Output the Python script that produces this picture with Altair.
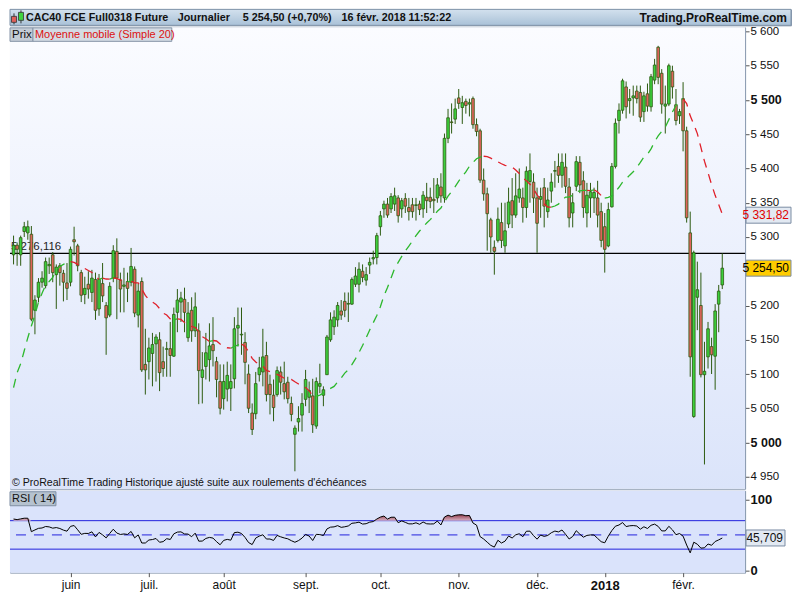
import altair as alt
import pandas as pd
import numpy as np

# ---------------- data ----------------
opens = [5274, 5288, 5274, 5308, 5306, 5304, 5193, 5212, 5234, 5229,
         5258, 5274, 5245, 5258, 5247, 5233, 5234, 5296, 5287, 5248,
         5216, 5231, 5219, 5238, 5195, 5232, 5200, 5186, 5240, 5279,
         5237, 5228, 5235, 5234, 5253, 5186, 5235, 5114, 5118, 5130,
         5144, 5150, 5118, 5136, 5137, 5126, 5190, 5205, 5209, 5153,
         5193, 5163, 5163, 5095, 5111, 5121, 5143, 5118, 5089, 5064,
         5078, 5079, 5093, 5167, 5157, 5146, 5100, 5043, 5042, 5099,
         5103, 5127, 5085, 5069, 5070, 5103, 5086, 5088, 5057, 5012,
         5030, 5040, 5063, 5066, 5068, 5024, 5082, 5069, 5099, 5150,
         5169, 5179, 5192, 5206, 5202, 5202, 5231, 5231, 5250, 5237,
         5259, 5268, 5270, 5315, 5341, 5348, 5341, 5348, 5357, 5341,
         5356, 5343, 5347, 5346, 5348, 5341, 5358, 5358, 5355, 5357,
         5373, 5357, 5444, 5468, 5472, 5503, 5489, 5498, 5494, 5502,
         5464, 5455, 5383, 5363, 5325, 5285, 5295, 5321, 5287, 5319,
         5353, 5332, 5357, 5357, 5343, 5381, 5380, 5357, 5355, 5372,
         5337, 5367, 5396, 5403, 5390, 5402, 5373, 5335, 5374, 5409,
         5382, 5335, 5357, 5357, 5357, 5337, 5315, 5287, 5344, 5403,
         5470, 5485, 5519, 5499, 5503, 5513, 5511, 5483, 5509, 5490,
         5529, 5577, 5539, 5491, 5494, 5542, 5493, 5477, 5502, 5455,
         5306, 5038, 5212, 5200, 5099, 5125, 5140, 5126, 5202, 5230]
highs = [5302, 5292, 5302, 5322, 5324, 5316, 5215, 5240, 5250, 5270,
         5270, 5278, 5260, 5262, 5252, 5262, 5286, 5315, 5290, 5252,
         5242, 5250, 5252, 5248, 5246, 5262, 5205, 5234, 5288, 5298,
         5248, 5255, 5248, 5284, 5257, 5232, 5241, 5166, 5153, 5160,
         5158, 5161, 5140, 5147, 5176, 5197, 5224, 5220, 5226, 5205,
         5212, 5219, 5174, 5132, 5160, 5174, 5183, 5125, 5114, 5114,
         5118, 5114, 5183, 5197, 5197, 5161, 5114, 5057, 5103, 5125,
         5166, 5147, 5099, 5092, 5111, 5111, 5118, 5096, 5067, 5025,
         5053, 5072, 5106, 5089, 5093, 5095, 5115, 5082, 5157, 5190,
         5193, 5205, 5208, 5219, 5219, 5241, 5256, 5263, 5260, 5256,
         5270, 5280, 5306, 5338, 5353, 5357, 5364, 5372, 5361, 5357,
         5364, 5357, 5357, 5357, 5353, 5367, 5379, 5372, 5386, 5386,
         5393, 5451, 5487, 5495, 5502, 5516, 5506, 5502, 5502, 5505,
         5473, 5458, 5400, 5372, 5328, 5295, 5343, 5350, 5350, 5372,
         5386, 5393, 5400, 5372, 5403, 5422, 5393, 5372, 5372, 5386,
         5372, 5393, 5411, 5422, 5422, 5422, 5386, 5364, 5418, 5418,
         5396, 5379, 5379, 5372, 5382, 5350, 5335, 5350, 5408, 5473,
         5495, 5531, 5527, 5516, 5521, 5521, 5521, 5512, 5524, 5538,
         5560, 5579, 5545, 5521, 5553, 5550, 5516, 5487, 5526, 5461,
         5337, 5280, 5264, 5248, 5147, 5176, 5153, 5202, 5230, 5276]
lows = [5260, 5258, 5258, 5300, 5296, 5177, 5158, 5205, 5226, 5225,
        5246, 5234, 5195, 5229, 5206, 5208, 5228, 5273, 5250, 5205,
        5202, 5210, 5205, 5179, 5185, 5205, 5128, 5183, 5234, 5180,
        5190, 5190, 5205, 5228, 5183, 5168, 5103, 5070, 5092, 5082,
        5089, 5075, 5096, 5096, 5096, 5125, 5161, 5176, 5161, 5147,
        5147, 5154, 5056, 5057, 5092, 5089, 5111, 5066, 5041, 5048,
        5060, 5046, 5079, 5140, 5128, 5085, 5043, 5011, 5034, 5089,
        5082, 5060, 5041, 5031, 5067, 5070, 5063, 5057, 5031, 4958,
        5016, 5016, 5053, 5043, 5014, 5020, 5072, 5053, 5099, 5147,
        5157, 5169, 5179, 5183, 5176, 5201, 5227, 5219, 5234, 5229,
        5246, 5260, 5260, 5302, 5328, 5328, 5335, 5338, 5321, 5328,
        5335, 5324, 5328, 5324, 5332, 5328, 5335, 5342, 5335, 5350,
        5350, 5350, 5437, 5451, 5465, 5487, 5465, 5480, 5476, 5458,
        5447, 5379, 5353, 5280, 5277, 5245, 5292, 5284, 5277, 5313,
        5313, 5328, 5350, 5321, 5328, 5350, 5335, 5277, 5328, 5314,
        5328, 5350, 5372, 5379, 5372, 5364, 5314, 5314, 5367, 5364,
        5328, 5314, 5328, 5335, 5314, 5285, 5248, 5285, 5343, 5400,
        5451, 5480, 5473, 5480, 5477, 5495, 5468, 5468, 5483, 5483,
        5523, 5523, 5480, 5451, 5491, 5502, 5463, 5465, 5425, 5321,
        5096, 5036, 5164, 5095, 4968, 5108, 5100, 5077, 5161, 5224]
closes = [5288, 5282, 5299, 5315, 5315, 5180, 5208, 5234, 5240, 5264,
          5260, 5248, 5256, 5248, 5234, 5225, 5282, 5293, 5258, 5215,
          5225, 5224, 5240, 5193, 5238, 5214, 5182, 5228, 5280, 5240,
          5224, 5230, 5225, 5257, 5189, 5221, 5106, 5106, 5138, 5143,
          5154, 5102, 5108, 5137, 5127, 5187, 5208, 5211, 5190, 5189,
          5163, 5198, 5105, 5106, 5131, 5141, 5134, 5092, 5050, 5089,
          5098, 5089, 5166, 5171, 5158, 5117, 5050, 5019, 5086, 5109,
          5125, 5070, 5070, 5051, 5105, 5088, 5074, 5064, 5041, 5021,
          5035, 5057, 5092, 5076, 5026, 5089, 5086, 5077, 5154, 5179,
          5183, 5200, 5186, 5193, 5203, 5238, 5243, 5253, 5241, 5245,
          5263, 5270, 5302, 5331, 5348, 5332, 5359, 5360, 5331, 5353,
          5345, 5337, 5337, 5347, 5340, 5361, 5353, 5352, 5353, 5376,
          5360, 5444, 5474, 5467, 5487, 5495, 5496, 5492, 5496, 5464,
          5454, 5383, 5363, 5334, 5300, 5279, 5326, 5295, 5309, 5351,
          5332, 5360, 5370, 5343, 5396, 5397, 5357, 5320, 5359, 5345,
          5354, 5380, 5397, 5390, 5409, 5374, 5328, 5350, 5410, 5376,
          5343, 5361, 5366, 5365, 5332, 5295, 5282, 5340, 5403, 5466,
          5485, 5528, 5490, 5502, 5506, 5502, 5475, 5506, 5491, 5534,
          5551, 5533, 5494, 5494, 5550, 5519, 5470, 5483, 5455, 5328,
          5125, 5277, 5223, 5099, 5104, 5166, 5128, 5192, 5221, 5254.5]

# moving average values for the first 19 sessions
ma_head = [5080, 5102, 5115, 5134, 5153, 5170, 5186, 5205, 5218, 5230,
           5235, 5241, 5251, 5257, 5260, 5263, 5264, 5263, 5260]
# RSI state before the first session (previous close, avg gain, avg loss)
rsi_seed = [5278, 28.0, 11.0]

month_idx = [16, 38, 59, 82, 103, 125, 147, 166, 188]
month_lbl = ["juin", "juil.", "août", "sept.", "oct.", "nov.", "déc.", "2018", "févr."]
price_ticks = [4950, 5000, 5050, 5100, 5150, 5200, 5250, 5300, 5350,
               5400, 5450, 5500, 5550, 5600]
hidden_tick_label = 5250   # covered by the last-price badge in the reference
ref_level = [5276.116]
ref_label = ["5 276,116"]
badge_vals = [5331.82, 5254.5]
badge_labels = ["5 331,82", "5 254,50"]
rsi_last = [45.709]
rsi_last_label = ["45,709"]
title_parts = ["CAC40 FCE Full0318 Future", "Journalier", "5 254,50 (+0,70%)",
               "16 févr. 2018 11:52:22"]
site = "Trading.ProRealTime.com"
legend_ma = "Moyenne mobile (Simple 20)"
footnote = "© ProRealTime Trading  Historique ajusté suite aux roulements d'échéances"

# ---------------- derived tables ----------------
n = len(closes)
df = pd.DataFrame({"i": range(n), "o": opens, "h": highs, "l": lows, "c": closes})
df["top"] = df[["o", "c"]].max(axis=1)
df["bot"] = df[["o", "c"]].min(axis=1)
df["dir"] = np.where(df["c"] >= df["o"], "up", "down")

ma = pd.Series(closes, dtype=float).rolling(20).mean().tolist()
ma[:19] = ma_head
rows = []
run = 0
prev_dir = None
for k in range(1, n):
    d = "up" if ma[k] >= ma[k - 1] else "down"
    if d != prev_dir:
        run += 1
        rows.append({"i": k - 1, "ma": ma[k - 1], "dir": d, "run": run})
    rows.append({"i": k, "ma": ma[k], "dir": d, "run": run})
    prev_dir = d
ma_df = pd.DataFrame(rows)

prev, ag, al = rsi_seed
rsi = []
for c in closes:
    ch = c - prev
    ag = (ag * 13 + max(ch, 0)) / 14
    al = (al * 13 + max(-ch, 0)) / 14
    rsi.append(100 - 100 / (1 + ag / al))
    prev = c
rsi_df = pd.DataFrame({"i": range(n), "rsi": rsi})
rsi_df["rc"] = rsi_df["rsi"].clip(lower=70)
rsi_df["r70"] = 70.0

one = pd.DataFrame({"a": [0]})

# ---------------- layout ----------------
FONT = "Liberation Sans"
W = 736
H = 462
HR = 82
BW = 782
BH = 16

xscale = alt.Scale(domain=[-1.0, 205.4], nice=False, zero=False)
yscale = alt.Scale(domain=[4932.5, 5606], nice=False, zero=False)
rscale = alt.Scale(domain=[-3, 112], nice=False, zero=False)

y_axis = alt.Axis(orient="right", values=price_ticks, title=None, grid=False,
                  labelExpr=f"datum.value == {hidden_tick_label} ? '' : replace(format(datum.value, ',d'), ',', ' ')",
                  tickSize=4, labelPadding=1, labelColor="#111", tickColor="#555",
                  domainColor="#8a9ab0", labelFont=FONT,
                  labelFontSize={"condition": {"test": "datum.value % 500 == 0", "value": 12.5}, "value": 11.5},
                  labelFontWeight={"condition": {"test": "datum.value % 500 == 0", "value": "bold"}, "value": "normal"})


def XM(f):
    return alt.X(f, type="quantitative", scale=xscale, axis=None)


def YM(f):
    return alt.Y(f, type="quantitative", scale=yscale, axis=y_axis)


# ---- title bar ----
bar_bg = alt.Chart(one).mark_rect(
    color=alt.Gradient(gradient="linear",
                       stops=[alt.GradientStop(color="#d3e1ee", offset=0),
                              alt.GradientStop(color="#a9c1d7", offset=1)],
                       x1=0, x2=0, y1=0, y2=1),
    stroke="#7f93a8").encode(x=alt.value(0), x2=alt.value(BW), y=alt.value(0), y2=alt.value(BH))
icon_w = alt.Chart(one).mark_rule(color="#333").encode(x=alt.value(4), y=alt.value(4), y2=alt.value(15))
icon_r = alt.Chart(one).mark_rect(fill="#e0605a", stroke="#333", strokeWidth=0.8).encode(
    x=alt.value(1.5), x2=alt.value(6.5), y=alt.value(7), y2=alt.value(13))
icon_w2 = alt.Chart(one).mark_rule(color="#333").encode(x=alt.value(11), y=alt.value(1), y2=alt.value(14))
icon_g = alt.Chart(one).mark_rect(fill="#3fd33f", stroke="#333", strokeWidth=0.8).encode(
    x=alt.value(8.5), x2=alt.value(13.5), y=alt.value(3), y2=alt.value(11))
title_layers = [bar_bg, icon_w, icon_r, icon_w2, icon_g]
for txt, xp in zip(title_parts, [16, 168, 233, 332]):
    title_layers.append(alt.Chart(one).mark_text(
        align="left", baseline="middle", font=FONT, fontSize=10.8, fontWeight="bold", color="#111"
    ).encode(x=alt.value(xp), y=alt.value(BH / 2 + 0.5), text=alt.value(txt)))
title_layers.append(alt.Chart(one).mark_text(
    align="right", baseline="middle", font=FONT, fontSize=12, fontWeight="bold", color="#111"
).encode(x=alt.value(BW - 4), y=alt.value(BH / 2 + 0.5), text=alt.value(site)))
bar = alt.layer(*title_layers).properties(width=BW, height=BH)

# ---- main price panel ----
bg = alt.Chart(one).mark_rect(
    color=alt.Gradient(gradient="linear",
                       stops=[alt.GradientStop(color="#fbfcff", offset=0),
                              alt.GradientStop(color="#dbe4fa", offset=1)],
                       x1=0, x2=0, y1=0, y2=1)
).encode(x=alt.value(0), x2=alt.value(W), y=alt.value(0), y2=alt.value(H))

hline = alt.Chart(pd.DataFrame({"v": ref_level, "lab": ref_label})).mark_rule(
    color="#000", strokeWidth=1.3).encode(y=YM("v"))
hlabel = alt.Chart(pd.DataFrame({"v": ref_level, "lab": ref_label})).mark_text(
    align="left", baseline="bottom", font=FONT, fontSize=11.5, color="#222", dy=-1
).encode(x=alt.value(1), y=YM("v"), text="lab:N")

wicks = alt.Chart(df).mark_rule(color="#2c5a10", strokeWidth=1).encode(
    x=XM("i"), y=YM("l"), y2="h:Q")
bodies = alt.Chart(df).transform_calculate(
    xa="datum.i - 0.37", xb="datum.i + 0.37"
).mark_rect(stroke="#2c5a10", strokeWidth=0.8).encode(
    x=XM("xa"), x2="xb:Q", y=YM("bot"), y2="top:Q",
    fill=alt.Fill("dir:N", scale=alt.Scale(domain=["up", "down"], range=["#3cd03c", "#e0645c"]), legend=None))

ma_line = alt.Chart(ma_df).mark_line(strokeDash=[9, 7], strokeWidth=1.3).encode(
    x=XM("i"), y=YM("ma"), detail="run:N", order="i:Q",
    color=alt.Color("dir:N", scale=alt.Scale(domain=["up", "down"], range=["#2db82d", "#e0202a"]), legend=None))

prix_box = alt.Chart(one).mark_rect(fill="#c3ccd6", stroke="#8796a8").encode(
    x=alt.value(0), x2=alt.value(23), y=alt.value(0.5), y2=alt.value(14))
ma_box = alt.Chart(one).mark_rect(fill="#d3dbe4", stroke="#8796a8").encode(
    x=alt.value(23), x2=alt.value(162), y=alt.value(0.5), y2=alt.value(14))
prix_txt = alt.Chart(one).mark_text(align="left", baseline="middle", font=FONT, fontSize=11.5, color="#111").encode(
    x=alt.value(2), y=alt.value(7.5), text=alt.value("Prix"))
ma_txt = alt.Chart(one).mark_text(align="left", baseline="middle", font=FONT, fontSize=11, color="#dd1111").encode(
    x=alt.value(25), y=alt.value(7.5), text=alt.value(legend_ma))
foot = alt.Chart(one).mark_text(align="left", baseline="middle", font=FONT, fontSize=10.6, color="#111").encode(
    x=alt.value(2), y=alt.value(H - 6), text=alt.value(footnote))

bdf = pd.DataFrame({"v": badge_vals, "lab": badge_labels,
                    "fill": ["#e2e9f2", "#ffcc00"], "tc": ["#e00000", "#000000"]})
badge_box = alt.Chart(bdf).mark_rect(yOffset=-8, y2Offset=8, stroke="#7a8ca3", strokeWidth=1).encode(
    x=alt.value(W + 1), x2=alt.value(W + 46), y=YM("v"), y2="v:Q", fill=alt.Fill("fill:N", scale=None))
badge_txt = alt.Chart(bdf).mark_text(align="right", baseline="middle", font=FONT, fontSize=12).encode(
    x=alt.value(W + 44), y=YM("v"), text="lab:N", color=alt.Color("tc:N", scale=None))

main = alt.layer(bg, hline, hlabel, wicks, bodies, ma_line, prix_box, ma_box, prix_txt, ma_txt,
                 foot, badge_box, badge_txt).properties(width=W, height=H)

# ---- RSI panel ----
x_expr = "".join(f"datum.value == {k} ? '{s}' : " for k, s in zip(month_idx, month_lbl)) + "''"
x_axis = alt.Axis(values=month_idx, labelExpr=x_expr, title=None, grid=False, domain=False,
                  tickSize=4, tickColor="#555", labelPadding=3, labelColor="#111", labelFont=FONT,
                  labelFontSize={"condition": {"test": "datum.value == 166", "value": 13}, "value": 12},
                  labelFontWeight={"condition": {"test": "datum.value == 166", "value": "bold"}, "value": "normal"})
r_axis = alt.Axis(orient="right", values=[0, 100], title=None, grid=False, tickSize=4, labelPadding=1,
                  labelFont=FONT, labelFontSize=13, labelFontWeight="bold", labelColor="#111",
                  tickColor="#555", domainColor="#8a9ab0")


def XR(f):
    return alt.X(f, type="quantitative", scale=xscale, axis=x_axis)


def YR(f):
    return alt.Y(f, type="quantitative", scale=rscale, axis=r_axis)


rbg = alt.Chart(one).mark_rect(fill="#dae3fb").encode(
    x=alt.value(0), x2=alt.value(W), y=alt.value(0), y2=alt.value(HR))
lv = alt.Chart(pd.DataFrame({"v": [70, 30]})).mark_rule(color="#2222dd", strokeWidth=1).encode(y=YR("v"))
mid = alt.Chart(pd.DataFrame({"v": [50]})).mark_rule(color="#2222dd", strokeWidth=1, strokeDash=[10, 8]).encode(y=YR("v"))
over = alt.Chart(rsi_df).mark_area(
    color=alt.Gradient(gradient="linear",
                       stops=[alt.GradientStop(color="#94404f", offset=0),
                              alt.GradientStop(color="#d9b3c3", offset=1)],
                       x1=0, x2=0, y1=0, y2=1)
).encode(x=XR("i"), y=YR("rc"), y2="r70:Q")
rline = alt.Chart(rsi_df).mark_line(color="#000", strokeWidth=1).encode(x=XR("i"), y=YR("rsi"))
rsi_box = alt.Chart(one).mark_rect(fill="#b5c2cf", stroke="#7f90a4").encode(
    x=alt.value(0), x2=alt.value(46), y=alt.value(1), y2=alt.value(15))
rsi_txt = alt.Chart(one).mark_text(align="left", baseline="middle", font=FONT, fontSize=11, color="#111").encode(
    x=alt.value(2), y=alt.value(8), text=alt.value("RSI ( 14)"))
rdf = pd.DataFrame({"v": rsi_last, "lab": rsi_last_label})
rbadge = alt.Chart(rdf).mark_rect(yOffset=-8, y2Offset=8, fill="#e2e9f2", stroke="#7a8ca3").encode(
    x=alt.value(W + 1), x2=alt.value(W + 40), y=YR("v"), y2="v:Q")
rbadge_t = alt.Chart(rdf).mark_text(align="right", baseline="middle", font=FONT, fontSize=12, color="#111").encode(
    x=alt.value(W + 38), y=YR("v"), text="lab:N")

rsi_chart = alt.layer(rbg, lv, mid, over, rline, rsi_box, rsi_txt, rbadge, rbadge_t).properties(width=W, height=HR)

chart = alt.vconcat(bar, main, rsi_chart, spacing=2, bounds="flush").properties(
    padding=0, background="white"
).configure_view(stroke="#8a9ab0").configure_text(font=FONT)

chart.save("out.html", embed_options={"renderer": "svg", "actions": False})
